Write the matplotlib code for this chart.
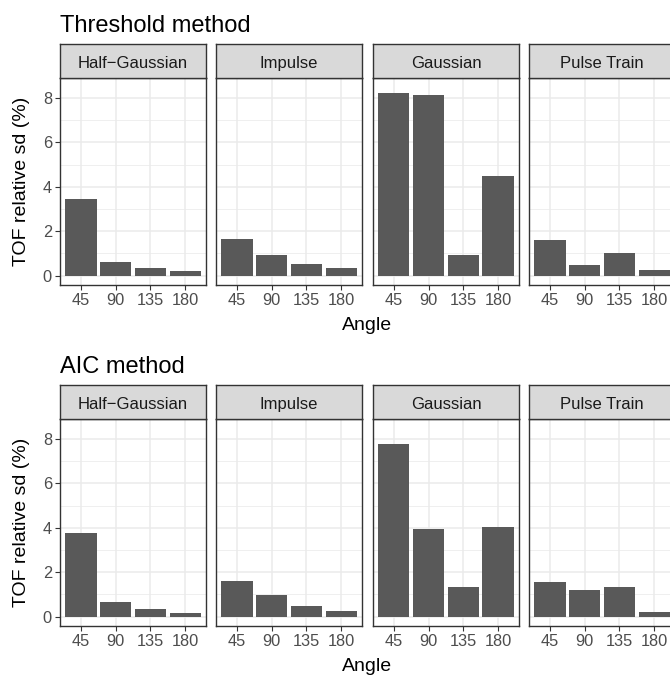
import matplotlib.pyplot as plt
import numpy as np

plt.rcParams['font.family'] = ['Liberation Sans', 'DejaVu Sans']

# Data
angles = ['45', '90', '135', '180']
pulses = ['Half\u2212Gaussian', 'Impulse', 'Gaussian', 'Pulse Train']

thr_half_gaussian = [3.43, 0.63, 0.36, 0.21]
thr_impulse = [1.66, 0.91, 0.50, 0.32]
thr_gaussian = [8.23, 8.15, 0.95, 4.48]
thr_pulse_train = [1.62, 0.47, 1.03, 0.23]

aic_half_gaussian = [3.75, 0.65, 0.36, 0.14]
aic_impulse = [1.59, 0.99, 0.48, 0.26]
aic_gaussian = [7.78, 3.96, 1.32, 4.03]
aic_pulse_train = [1.58, 1.20, 1.35, 0.19]

rows = [
    ('Threshold method', [thr_half_gaussian, thr_impulse, thr_gaussian, thr_pulse_train]),
    ('AIC method', [aic_half_gaussian, aic_impulse, aic_gaussian, aic_pulse_train]),
]

W, H = 670, 675
fig = plt.figure(figsize=(W/100, H/100), dpi=100)

def fx(px):
    return px/W

def fy(px):
    return 1 - px/H

lefts = [60, 216, 373, 529]
pw = 146
row_off = 341

for r, (title, series) in enumerate(rows):
    off = r*row_off
    strip_top = 44 + off
    panel_top = 78 + off
    panel_bot = 285 + off

    fig.text(fx(60), fy(32 + off), title, fontsize=17, ha='left', va='baseline', color='black')
    fig.text(fx(22), fy((panel_top + panel_bot)/2), 'TOF relative sd (%)', fontsize=14,
             rotation=90, ha='center', va='center', color='black')
    fig.text(fx(367), fy(330 + off), 'Angle', fontsize=14, ha='center', va='baseline', color='black')

    for i, (name, vals) in enumerate(zip(pulses, series)):
        l = lefts[i]
        ax = fig.add_axes([fx(l), fy(panel_bot), pw/W, (panel_bot - panel_top)/H])
        x = np.arange(len(angles))
        ax.bar(x, vals, width=0.9, color='#595959', zorder=2)
        ax.set_xlim(-0.6, 3.6)
        ax.set_ylim(-0.424, 8.904)
        ax.set_xticks(x)
        ax.set_xticklabels(angles)
        ax.set_yticks([0, 2, 4, 6, 8])
        ax.set_yticks([1, 3, 5, 7], minor=True)
        ax.set_axisbelow(True)
        ax.grid(True, which='major', color='#EBEBEB', lw=1.1)
        ax.grid(True, which='minor', axis='y', color='#EBEBEB', lw=0.55)
        ax.tick_params(which='minor', length=0)
        ax.tick_params(which='major', length=3.6, width=0.8, color='#333333',
                       labelsize=11.8, labelcolor='#4D4D4D', pad=2.2)
        if i > 0:
            ax.tick_params(axis='y', left=False, labelleft=False)
        for s in ax.spines.values():
            s.set_color('#333333')
            s.set_linewidth(1.0)

        sax = fig.add_axes([fx(l), fy(panel_top), pw/W, (panel_top - strip_top)/H])
        sax.set_facecolor('#D9D9D9')
        sax.set_xticks([])
        sax.set_yticks([])
        for s in sax.spines.values():
            s.set_color('#333333')
            s.set_linewidth(1.0)
        sax.text(0.5, 0.29, name, transform=sax.transAxes, ha='center', va='baseline',
                 fontsize=12, color='#1A1A1A')

fig.savefig('out.png', dpi=100)
